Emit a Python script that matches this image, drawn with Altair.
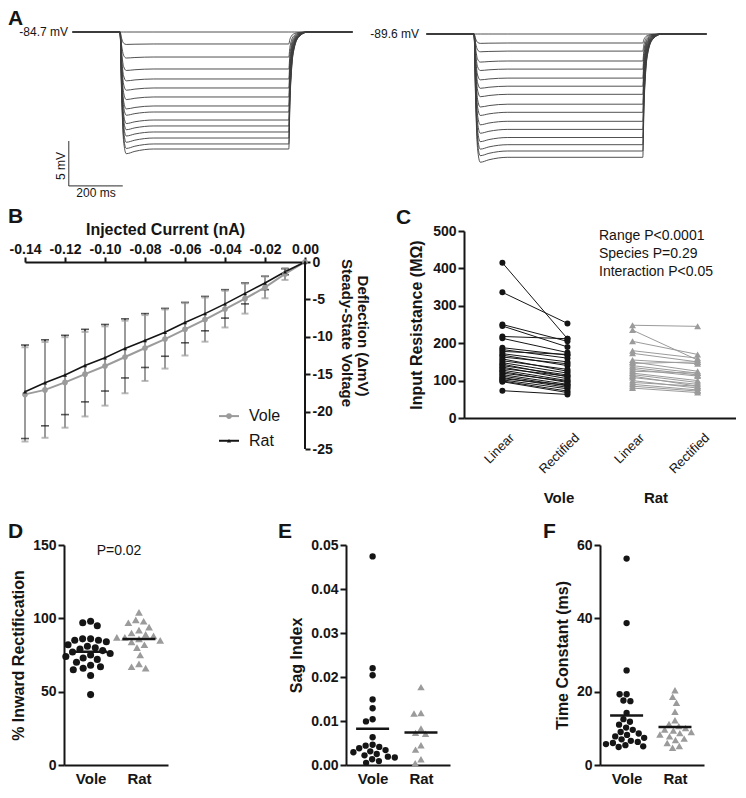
import altair as alt
import numpy as np
import pandas as pd

FONT = "Liberation Sans"
INK = "#151515"
GREY = "#9b9b9b"
TRACE = "#3d3d3d"

# ---------------- Panel A : voltage traces ----------------
trace_time = [0, 175, 181, 188, 198, 230, 300, 800, 804, 810, 820, 838, 870, 1035]   # ms
trace_frac = [0.0, 0.0, 0.55, 0.93, 1.04, 1.02, 1.0, 1.0, 0.62, 0.33, 0.14, 0.04, 0.0, 0.0]
vole_rest = -84.7
rat_rest = -89.6
vole_levels = [0, 1.33, 2.78, 4.11, 5.22, 6.22, 7.22, 8.22, 8.89, 9.78, 10.44, 11.11, 11.78, 12.44, 13.0]
rat_levels = [0, 1.0, 1.9, 3.0, 3.9, 4.9, 5.8, 6.7, 7.8, 8.7, 9.7, 10.6, 11.5, 12.3, 13.0, 13.7]
scale_ms = 200
scale_mv = 5

# ---------------- Panel B : I-V relation ----------------
current = [-0.14, -0.13, -0.12, -0.11, -0.10, -0.09, -0.08, -0.07, -0.06, -0.05, -0.04, -0.03, -0.02, -0.01, 0.00]
vole_mean = [-17.7, -17.1, -16.1, -15.0, -13.9, -12.7, -11.5, -10.3, -9.0, -7.7, -6.3, -4.9, -3.4, -1.6, 0.0]
vole_sd = [6.3, 6.4, 6.05, 5.65, 5.3, 4.85, 4.4, 3.95, 3.5, 2.95, 2.45, 2.0, 1.45, 0.8, 0.0]
rat_mean = [-17.35, -16.15, -15.1, -13.85, -12.8, -11.55, -10.5, -9.4, -8.1, -6.9, -5.6, -4.2, -2.8, -1.3, 0.0]
rat_sd = [6.25, 5.75, 5.3, 4.85, 4.45, 3.95, 3.6, 3.2, 2.7, 2.3, 1.9, 1.4, 0.9, 0.4, 0.0]

# ---------------- Panel C : input resistance ----------------
vole_linear = [415, 336, 250, 246, 218, 213, 188, 183, 178, 172, 168, 163, 158, 153, 148,
               144, 140, 136, 132, 128, 124, 120, 116, 112, 108, 105, 102, 99, 97, 73]
vole_rectified = [212, 253, 205, 190, 212, 175, 168, 160, 170, 150, 140, 145, 125, 130, 120,
                  110, 115, 105, 112, 100, 95, 98, 90, 86, 82, 88, 78, 72, 68, 63]
rat_linear = [248, 235, 205, 180, 173, 155, 150, 146, 140, 135, 130, 125, 120, 116, 112,
              108, 100, 95, 90, 85, 80]
rat_rectified = [245, 155, 170, 160, 150, 145, 125, 150, 120, 115, 112, 120, 100, 95, 85,
                 90, 80, 85, 75, 72, 68]
c_categories = ["Vole_Linear", "Vole_Rectified", "Rat_Linear", "Rat_Rectified"]
c_stats = ["Range P<0.0001", "Species P=0.29", "Interaction P<0.05"]

# ---------------- Panels D, E, F ----------------
rect_vole = [98, 97, 95, 86, 86, 85, 85, 84, 82, 81, 80, 79, 78, 77, 76, 75, 74, 73, 72, 70, 68, 67, 66, 65, 61, 48]
rect_rat = [104, 99, 98, 97, 94, 92, 90, 89, 88, 87, 87, 86, 85, 84, 82, 80, 75, 69, 67, 66]
sag_vole = [0.0474, 0.022, 0.0204, 0.0149, 0.0129, 0.0104, 0.0099, 0.0063, 0.0046, 0.0044, 0.0041,
            0.0038, 0.0034, 0.0031, 0.0029, 0.0025, 0.0022, 0.0019, 0.0017, 0.0013, 0.0009, 0.0005]
sag_rat = [0.0177, 0.0118, 0.0117, 0.0083, 0.0073, 0.0071, 0.0045, 0.0035, 0.0013, 0.0004]
tau_vole = [56.3, 38.7, 25.8, 19.3, 19.3, 17.6, 17.4, 14.2, 12.5, 11.8, 11.0, 10.2, 9.6, 9.0, 8.6,
            8.2, 7.8, 7.4, 7.0, 6.6, 6.3, 6.0, 5.7, 5.4, 5.1, 4.9]
tau_rat = [20.4, 18.6, 17.0, 14.5, 12.2, 11.2, 10.6, 10.1, 9.7, 9.4, 9.0, 8.7, 8.3, 7.8, 7.2, 6.8, 6.0, 5.2, 4.7]


def label(text, x, y, size=12, weight="normal", align="left", baseline="middle", angle=0, color=INK):
    return alt.Chart(pd.DataFrame({"s": [text]})).mark_text(
        font=FONT, fontSize=size, fontWeight=weight, align=align, baseline=baseline,
        angle=angle, color=color
    ).encode(x=alt.value(x), y=alt.value(y), text="s:N")


def spacer(w, h):
    return alt.Chart(pd.DataFrame({"z": [0]})).mark_point(opacity=0, size=1).encode(
        x=alt.X("z:Q", axis=None), y=alt.Y("z:Q", axis=None)
    ).properties(width=w, height=h)


# ---------------- build A ----------------
A_W, A_H = 297, 166
T_DOM = [-40, 1060]
PX_MV = 9.0


def trace_df(rest, levels):
    rows = []
    for i, lv in enumerate(levels):
        for t, f in zip(trace_time, trace_frac):
            rows.append({"trace": i, "t": t, "v": rest - lv * f})
    return pd.DataFrame(rows)


def trace_panel(rest, levels, top_px):
    top = rest + top_px / PX_MV
    ydom = [top - A_H / PX_MV, top]
    xs = alt.Scale(domain=T_DOM, nice=False, zero=False)
    ys = alt.Scale(domain=ydom, nice=False, zero=False)
    lines = alt.Chart(trace_df(rest, levels)).mark_line(
        color=TRACE, strokeWidth=0.9, interpolate="monotone"
    ).encode(x=alt.X("t:Q", scale=xs, axis=None), y=alt.Y("v:Q", scale=ys, axis=None), detail="trace:N")
    return lines, xs, ys, ydom


a1_lines, xs1, ys1, ydom1 = trace_panel(vole_rest, vole_levels, 8)
sb_t0 = -15
sb_v0 = ydom1[0] + 0.45
sb = pd.DataFrame({"t": [sb_t0], "t2": [sb_t0 + scale_ms], "v": [sb_v0], "v2": [sb_v0 + scale_mv]})
sb_h = alt.Chart(sb).mark_rule(color="#555", strokeWidth=1.2).encode(
    x=alt.X("t:Q", scale=xs1, axis=None), x2="t2:Q", y=alt.Y("v:Q", scale=ys1, axis=None))
sb_v = alt.Chart(sb).mark_rule(color="#555", strokeWidth=1.2).encode(
    x=alt.X("t:Q", scale=xs1, axis=None), y=alt.Y("v:Q", scale=ys1, axis=None), y2="v2:Q")
A1 = alt.layer(
    a1_lines, sb_h, sb_v,
    label("A", -54, -16, size=21, weight="bold", baseline="top"),
    label("-84.7 mV", 6, 8, size=12, align="right"),
    label("5 mV", -1, 142, size=12, align="center", angle=270),
    label("200 ms", 34, 169, size=12, align="center"),
).properties(width=A_W, height=A_H)

a2_lines, xs2, ys2, ydom2 = trace_panel(rat_rest, rat_levels, 10)
A2 = alt.layer(
    a2_lines,
    label("-89.6 mV", 3, 10, size=12, align="right"),
).properties(width=A_W, height=A_H)

# ---------------- build B ----------------
B_W, B_H = 280, 218
B_TOP = 31
yb_top = 25 * B_TOP / (B_H - B_TOP)
xB = alt.Scale(domain=[-0.14, 0], nice=False, zero=False)
yB = alt.Scale(domain=[-25, yb_top], nice=False, zero=False)
minus_fix = "replace(format(datum.value, '{f}'), '\u2212', '-')"

B_XAXIS = alt.Axis(
    orient="top", offset=-B_TOP, values=current[::2], labelExpr=minus_fix.format(f=".2f"),
    labelOverlap=False, labelFlush=False, tickSize=5, labelPadding=1, titlePadding=5,
    titleFontSize=16, labelFontSize=14)
B_YAXIS = alt.Axis(
    orient="right", domain=False, values=[0, -5, -10, -15, -20, -25], labelOverlap=False,
    labelExpr=minus_fix.format(f="d"), tickSize=5, labelPadding=2, labelFontSize=14)


def bx(field):
    return alt.X(field, scale=xB, title="Injected Current (nA)", axis=B_XAXIS)


def by(field):
    return alt.Y(field, scale=yB, title=None, axis=B_YAXIS)


dfb = pd.DataFrame({"cur": current, "vm": vole_mean, "vs": vole_sd, "rm": rat_mean, "rs": rat_sd})
dfb["vlo"] = dfb.vm - dfb.vs
dfb["vhi"] = dfb.vm + dfb.vs
dfb["rlo"] = dfb.rm - dfb.rs
dfb["rhi"] = dfb.rm + dfb.rs
dfe = dfb[dfb.vs > 0]

b_layers = [
    alt.Chart(dfe).mark_rule(color=INK, strokeWidth=1.5).encode(x=bx("cur:Q"), y=by("rlo:Q"), y2="rhi:Q"),
    alt.Chart(dfe).mark_rule(color=GREY, strokeWidth=2).encode(x=bx("cur:Q"), y=by("vlo:Q"), y2="vhi:Q"),
    alt.Chart(dfe).mark_tick(orient="horizontal", size=8, thickness=1.6, color=INK).encode(x=bx("cur:Q"), y=by("rlo:Q")),
    alt.Chart(dfe).mark_tick(orient="horizontal", size=8, thickness=1.6, color=INK).encode(x=bx("cur:Q"), y=by("rhi:Q")),
    alt.Chart(dfe).mark_tick(orient="horizontal", size=7, thickness=2, color=GREY).encode(x=bx("cur:Q"), y=by("vlo:Q")),
    alt.Chart(dfe).mark_tick(orient="horizontal", size=7, thickness=2, color=GREY).encode(x=bx("cur:Q"), y=by("vhi:Q")),
    alt.Chart(dfb).mark_line(color=GREY, strokeWidth=2).encode(x=bx("cur:Q"), y=by("vm:Q")),
    alt.Chart(dfb).mark_line(color=INK, strokeWidth=1.6).encode(x=bx("cur:Q"), y=by("rm:Q")),
    alt.Chart(dfb).mark_point(filled=True, shape="circle", size=32, color=GREY, opacity=1).encode(x=bx("cur:Q"), y=by("vm:Q")),
    alt.Chart(dfb).mark_point(filled=True, shape="triangle-up", size=16, color=INK, opacity=1).encode(x=bx("cur:Q"), y=by("rm:Q")),
    alt.Chart(pd.DataFrame({"cur": [0.0], "y": [0.0], "y2": [-25.0]})).mark_rule(color=INK, strokeWidth=2).encode(
        x=bx("cur:Q"), y=by("y:Q"), y2="y2:Q"),
]
leg = pd.DataFrame({"name": ["Vole", "Rat"], "y": [-20.6, -23.9],
                    "x1": [-0.043, -0.043], "x2": [-0.033, -0.033], "xm": [-0.038, -0.038], "xt": [-0.028, -0.028]})
b_layers += [
    alt.Chart(leg[leg.name == "Vole"]).mark_rule(color=GREY, strokeWidth=2).encode(
        x=bx("x1:Q"), x2="x2:Q", y=by("y:Q")),
    alt.Chart(leg[leg.name == "Rat"]).mark_rule(color=INK, strokeWidth=2).encode(
        x=bx("x1:Q"), x2="x2:Q", y=by("y:Q")),
    alt.Chart(leg[leg.name == "Vole"]).mark_point(filled=True, shape="circle", size=32, color=GREY, opacity=1).encode(
        x=bx("xm:Q"), y=by("y:Q")),
    alt.Chart(leg[leg.name == "Rat"]).mark_point(filled=True, shape="triangle-up", size=18, color=INK, opacity=1).encode(
        x=bx("xm:Q"), y=by("y:Q")),
    alt.Chart(leg).mark_text(font=FONT, fontSize=16, align="left", baseline="middle", color=INK).encode(
        x=bx("xt:Q"), y=by("y:Q"), text="name:N"),
    label("B", -17, -25, size=21, weight="bold", baseline="top"),
    label("Steady-State Voltage", 322, 102, size=15, weight="bold", align="center", angle=90),
    label("Deflection (\u0394mV)", 338, 105, size=15, weight="bold", align="center", angle=90),
]
B = alt.layer(*b_layers).properties(width=B_W, height=B_H)

# ---------------- build C ----------------
C_W, C_H = 272, 187
rows = []
for i, (a, b) in enumerate(zip(vole_linear, vole_rectified)):
    rows += [{"pair": f"v{i}", "sp": "Vole", "cat": "Vole_Linear", "val": a},
             {"pair": f"v{i}", "sp": "Vole", "cat": "Vole_Rectified", "val": b}]
for i, (a, b) in enumerate(zip(rat_linear, rat_rectified)):
    rows += [{"pair": f"r{i}", "sp": "Rat", "cat": "Rat_Linear", "val": a},
             {"pair": f"r{i}", "sp": "Rat", "cat": "Rat_Rectified", "val": b}]
dfc = pd.DataFrame(rows)
xC = alt.Scale(type="point", domain=c_categories, padding=0.59)
yC = alt.Scale(domain=[0, 500], nice=False)
C_XAXIS = alt.Axis(
    labelAngle=-45, ticks=False, labelPadding=13, labelOffset=5, labelFontWeight="normal", labelFontSize=13,
    labelExpr="indexof(datum.value, 'Linear') >= 0 ? 'Linear' : 'Rectified'")
C_YAXIS = alt.Axis(values=[0, 100, 200, 300, 400, 500], tickSize=6, labelFontSize=14, titleFontSize=16, titlePadding=8)
cx = alt.X("cat:N", scale=xC, title=None, axis=C_XAXIS)
cy = alt.Y("val:Q", scale=yC, title="Input Resistance (M\u03a9)", axis=C_YAXIS)
C = alt.layer(
    alt.Chart(dfc[dfc.sp == "Vole"]).mark_line(color=INK, strokeWidth=1).encode(x=cx, y=cy, detail="pair:N"),
    alt.Chart(dfc[dfc.sp == "Rat"]).mark_line(color=GREY, strokeWidth=1).encode(x=cx, y=cy, detail="pair:N"),
    alt.Chart(dfc[dfc.sp == "Vole"]).mark_point(filled=True, shape="circle", size=36, color=INK, opacity=1).encode(x=cx, y=cy),
    alt.Chart(dfc[dfc.sp == "Rat"]).mark_point(filled=True, shape="triangle-up", size=48, color=GREY, opacity=1).encode(x=cx, y=cy),
    label("C", -68, -24, size=21, weight="bold", baseline="top"),
    label(c_stats[0], 135, 5, size=14),
    label(c_stats[1], 135, 23, size=14),
    label(c_stats[2], 135, 41, size=14),
    label("Vole", 95, 267, size=15, weight="bold", align="center"),
    label("Rat", 192, 267, size=15, weight="bold", align="center"),
).properties(width=C_W, height=C_H)

# ---------------- build D, E, F ----------------
S_W, S_H = 104, 220
S_XDOM = [0.45, 2.6]


def swarm(values, ppu, diam):
    offs = [0.0] * len(values)
    placed = []
    for idx in sorted(range(len(values)), key=lambda i: -values[i]):
        y = values[idx] * ppu
        cands = [0.0]
        for (py, px) in placed:
            dy = abs(py - y)
            if dy < diam:
                dx = (diam ** 2 - dy ** 2) ** 0.5
                cands += [px - dx, px + dx]
        cands.sort(key=lambda c: (abs(c), c))
        chosen = cands[-1]
        for c in cands:
            if all((c - px) ** 2 + (y - py) ** 2 >= diam ** 2 - 1e-6 for py, px in placed):
                chosen = c
                break
        placed.append((y, chosen))
        offs[idx] = chosen
    return offs


def scatter_panel(vole, rat, ymax, yvals, fmt, title, letter, letter_x, diam, vsize, rsize, extra=None):
    xppu = S_W / (S_XDOM[1] - S_XDOM[0])
    yppu = S_H / ymax
    ov = swarm(vole, yppu, diam)
    orr = swarm(rat, yppu, diam)
    dv = pd.DataFrame({"x": [1 + o / xppu for o in ov], "y": vole})
    dr = pd.DataFrame({"x": [2 + o / xppu for o in orr], "y": rat})
    half = 16.5 / xppu
    dm = pd.DataFrame({"x": [1 - half, 2 - half], "x2": [1 + half, 2 + half], "y": [np.mean(vole), np.mean(rat)]})
    xs = alt.Scale(domain=S_XDOM, nice=False, zero=False)
    ys = alt.Scale(domain=[0, ymax], nice=False)
    xaxis = alt.Axis(values=[1, 2], labelExpr="datum.value == 1 ? 'Vole' : 'Rat'", ticks=False,
                     labelFontSize=15, labelPadding=6)
    yaxis = alt.Axis(values=yvals, format=fmt, tickSize=6, labelFontSize=14, titleFontSize=16, titlePadding=6)
    xa = alt.X("x:Q", scale=xs, title=None, axis=xaxis)
    ya = alt.Y("y:Q", scale=ys, title=title, axis=yaxis)
    layers = [
        alt.Chart(dv).mark_point(filled=True, shape="circle", size=vsize, color=INK, opacity=1).encode(x=xa, y=ya),
        alt.Chart(dr).mark_point(filled=True, shape="triangle-up", size=rsize, color=GREY, opacity=1).encode(x=xa, y=ya),
        alt.Chart(dm).mark_rule(color=INK, strokeWidth=2.5).encode(x=xa, x2="x2:Q", y=ya),
        label(letter, letter_x, -24, size=21, weight="bold", baseline="top"),
    ]
    if extra is not None:
        layers.append(extra)
    return alt.layer(*layers).properties(width=S_W, height=S_H)


D = scatter_panel(rect_vole, rect_rat, 150, [0, 50, 100, 150], "d", "% Inward Rectification", "D", -56,
                  8.0, 50, 60, extra=label("P=0.02", 55, 6, size=14, align="center"))
E = scatter_panel(sag_vole, sag_rat, 0.05, [0, 0.01, 0.02, 0.03, 0.04, 0.05], ".2f", "Sag Index", "E", -68,
                  7.0, 40, 55)
F = scatter_panel(tau_vole, tau_rat, 60, [0, 20, 40, 60], "d", "Time Constant (ms)", "F", -57,
                  7.0, 40, 55)

# rows: the first item of every row starts at the same origin (left edge of panel B)
rowA = alt.hconcat(spacer(27, 1), A1, spacer(37, 1), A2, spacing=10, bounds="flush")
rowBC = alt.hconcat(B, C, spacing=159, bounds="flush")
rowDEF = alt.hconcat(spacer(29, 1), D, spacer(158, 1), E, spacer(130, 1), F, spacing=10, bounds="flush")

chart = alt.vconcat(
    rowA, rowBC, spacer(10, 1), rowDEF, spacing=7,
    padding={"left": 0, "top": 0, "right": 0, "bottom": 0},
).configure(font=FONT).configure_view(strokeWidth=0).configure_axis(
    grid=False, domainColor=INK, tickColor=INK, labelColor=INK, titleColor=INK,
    domainWidth=2, tickWidth=2, labelFont=FONT, titleFont=FONT,
    labelFontWeight="bold", titleFontWeight="bold",
)

chart.save("out.html", embed_options={"renderer": "svg", "actions": False})
